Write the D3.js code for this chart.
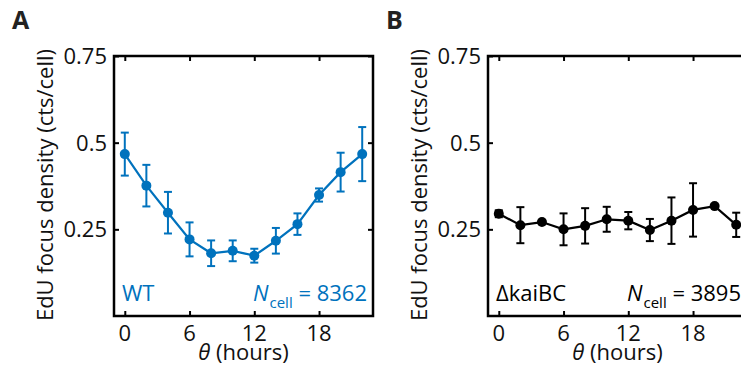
<!DOCTYPE html>
<html>
<head>
<meta charset="utf-8">
<script src="https://cdn.jsdelivr.net/npm/d3@7"></script>
<style>
  body { margin: 0; background: #fff; }
  svg text { font-family: "Open Sans", "Noto Sans", sans-serif; }
</style>
</head>
<body>
<script>
// time points (hours)
var theta = [0, 2, 4, 6, 8, 10, 12, 14, 16, 18, 20, 22];
var xTicks = [0, 6, 12, 18];
var yTicks = [0.25, 0.5, 0.75];
var yTickLabels = ["0.25", "0.5", "0.75"];

// WT
var wtMean = [0.467, 0.376, 0.298, 0.221, 0.181, 0.188, 0.174, 0.217, 0.265, 0.349, 0.415, 0.467];
var wtErr  = [0.062, 0.060, 0.060, 0.049, 0.037, 0.030, 0.020, 0.037, 0.031, 0.019, 0.056, 0.078];

// delta kaiBC
var kaiMean = [0.295, 0.262, 0.271, 0.250, 0.260, 0.279, 0.275, 0.248, 0.275, 0.306, 0.317, 0.263];
var kaiErr  = [0.010, 0.052, 0.004, 0.046, 0.051, 0.036, 0.025, 0.032, 0.067, 0.077, 0.004, 0.035];

var panels = [
  { label: "A", left: 114, mean: wtMean, err: wtErr, color: "#0072bd", textColor: "#0072bd",
    name: "WT", n: "8362" },
  { label: "B", left: 488, mean: kaiMean, err: kaiErr, color: "#000", textColor: "#000",
    name: "\u0394kaiBC", n: "3895" }
];

var W = 741, H = 379;
var boxW = 259, boxTop = 56, boxBot = 316;
var fs = 22;

var svg = d3.select("body").append("svg")
  .attr("width", W).attr("height", H);

panels.forEach(function (p) {
  var x = d3.scaleLinear().domain([-1, 23]).range([p.left, p.left + boxW]);
  var y = d3.scaleLinear().domain([0, 0.75]).range([boxBot, boxTop]);
  var g = svg.append("g");

  // inward ticks on all four sides
  g.append("g").attr("transform", "translate(0," + boxBot + ")")
    .call(d3.axisBottom(x).tickValues(xTicks).tickSizeInner(-5).tickSizeOuter(0).tickFormat(""))
    .call(function (a) { a.select(".domain").remove(); });
  g.append("g").attr("transform", "translate(0," + boxTop + ")")
    .call(d3.axisTop(x).tickValues(xTicks).tickSizeInner(-5).tickSizeOuter(0).tickFormat(""))
    .call(function (a) { a.select(".domain").remove(); });
  g.append("g").attr("transform", "translate(" + p.left + ",0)")
    .call(d3.axisLeft(y).tickValues(yTicks).tickSizeInner(-5).tickSizeOuter(0).tickFormat(""))
    .call(function (a) { a.select(".domain").remove(); });
  g.append("g").attr("transform", "translate(" + (p.left + boxW) + ",0)")
    .call(d3.axisRight(y).tickValues(yTicks).tickSizeInner(-5).tickSizeOuter(0).tickFormat(""))
    .call(function (a) { a.select(".domain").remove(); });
  g.selectAll(".tick line").attr("stroke", "#000").attr("stroke-width", 2);

  // box
  g.append("rect")
    .attr("x", p.left).attr("y", boxTop)
    .attr("width", boxW).attr("height", boxBot - boxTop)
    .attr("fill", "none").attr("stroke", "#000").attr("stroke-width", 2.5);

  // tick labels
  g.selectAll(".xl").data(xTicks).enter().append("text")
    .attr("x", function (d) { return x(d); })
    .attr("y", 341)
    .attr("text-anchor", "middle")
    .attr("font-size", fs)
    .attr("fill", "#111")
    .text(function (d) { return d; });
  g.selectAll(".yl").data(yTicks).enter().append("text")
    .attr("x", p.left - 7)
    .attr("y", function (d) { return y(d); })
    .attr("dy", "0.36em")
    .attr("text-anchor", "end")
    .attr("font-size", fs)
    .attr("fill", "#111")
    .text(function (d, i) { return yTickLabels[i]; });

  // axis titles
  var xt = g.append("text")
    .attr("x", (x(-1) + x(23)) / 2).attr("y", 360)
    .attr("text-anchor", "middle").attr("font-size", fs).attr("fill", "#111");
  xt.append("tspan").attr("font-style", "italic").text("\u03b8");
  xt.append("tspan").text(" (hours)");

  g.append("text")
    .attr("transform", "translate(" + (p.left - 61) + "," + ((boxTop + boxBot) / 2 - 1) + ") rotate(-90)")
    .attr("text-anchor", "middle").attr("font-size", fs).attr("fill", "#111")
    .text("EdU focus density (cts/cell)");

  // panel letter
  g.append("text")
    .attr("x", p.left - 102).attr("y", 29)
    .attr("font-size", 25).attr("font-weight", "bold").attr("fill", "#222")
    .text(p.label);

  // data
  var pts = theta.map(function (t, i) { return { t: t, m: p.mean[i], e: p.err[i] }; });

  var eb = g.selectAll(".eb").data(pts).enter().append("g").attr("stroke", p.color).attr("stroke-width", 2);
  eb.append("line")
    .attr("x1", function (d) { return x(d.t); }).attr("x2", function (d) { return x(d.t); })
    .attr("y1", function (d) { return y(d.m - d.e); }).attr("y2", function (d) { return y(d.m + d.e); });
  eb.append("line")
    .attr("x1", function (d) { return x(d.t) - 4; }).attr("x2", function (d) { return x(d.t) + 4; })
    .attr("y1", function (d) { return y(d.m - d.e); }).attr("y2", function (d) { return y(d.m - d.e); });
  eb.append("line")
    .attr("x1", function (d) { return x(d.t) - 4; }).attr("x2", function (d) { return x(d.t) + 4; })
    .attr("y1", function (d) { return y(d.m + d.e); }).attr("y2", function (d) { return y(d.m + d.e); });

  g.append("path").datum(pts)
    .attr("fill", "none").attr("stroke", p.color).attr("stroke-width", 2.2)
    .attr("d", d3.line().x(function (d) { return x(d.t); }).y(function (d) { return y(d.m); }));

  g.selectAll(".dot").data(pts).enter().append("circle")
    .attr("cx", function (d) { return x(d.t); })
    .attr("cy", function (d) { return y(d.m); })
    .attr("r", 5).attr("fill", p.color);

  // annotations
  g.append("text")
    .attr("x", p.left + 8).attr("y", 301)
    .attr("font-size", fs).attr("fill", p.textColor)
    .text(p.name);
  var nt = g.append("text")
    .attr("x", p.left + boxW - 6).attr("y", 301)
    .attr("text-anchor", "end").attr("font-size", fs).attr("fill", p.textColor);
  nt.append("tspan").attr("font-style", "italic").text("N");
  nt.append("tspan").attr("font-size", 15).attr("dy", 7).attr("dx", 1).text("cell");
  nt.append("tspan").attr("dy", -7).text(" = " + p.n);
});
</script>
</body>
</html>
